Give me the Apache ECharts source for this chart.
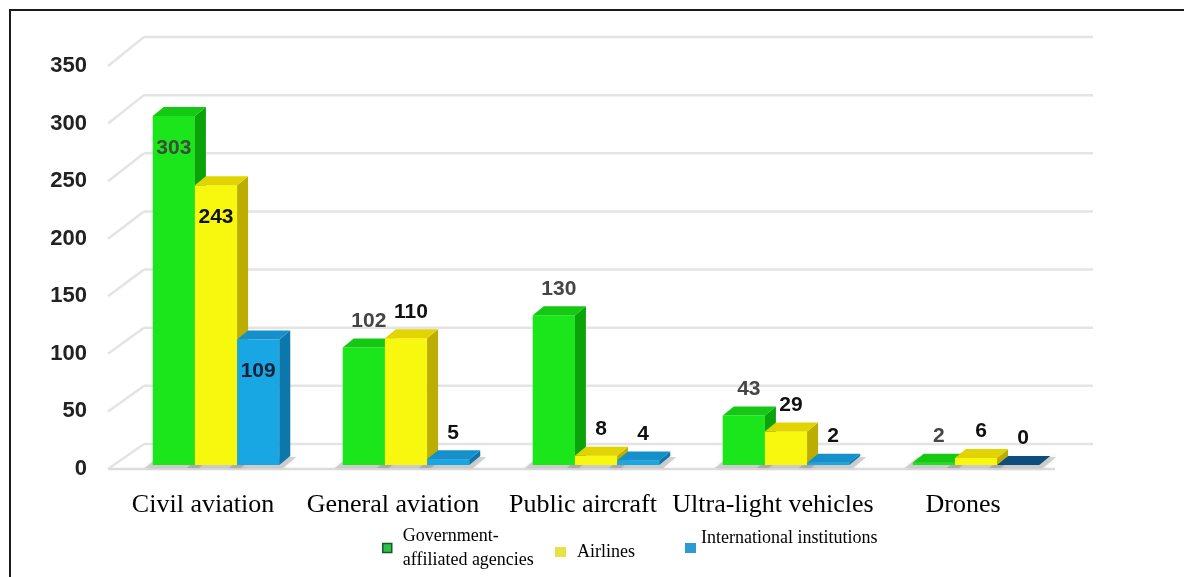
<!DOCTYPE html>
<html><head><meta charset="utf-8">
<script src="https://cdn.jsdelivr.net/npm/echarts@6/dist/echarts.min.js"></script>
<style>html,body{margin:0;padding:0;background:#fff}#c{width:1184px;height:577px}</style>
</head><body><div id="c"></div>
<script>
// ---- data ----
const categories = ['Civil aviation', 'General aviation', 'Public aircraft', 'Ultra-light vehicles', 'Drones'];
const seriesNames = ['Government-affiliated agencies', 'Airlines', 'International institutions'];
const government = [303, 102, 130, 43, 2];
const airlines = [243, 110, 8, 29, 6];
const international = [109, 5, 4, 2, 0];
const yTicks = [0, 50, 100, 150, 200, 250, 300, 350];

// ---- styles ----
const looks = [
  { front: '#1be51b', side: '#0aa30a', top: '#14c814', label: '#454545', inLabel: '#3a4f3a' },
  { front: '#f8f80e', side: '#bcae00', top: '#e2d400', label: '#111', inLabel: '#111' },
  { front: '#18a7e2', side: '#0c77ab', top: '#1590cb', label: '#111', inLabel: '#16213a' }
];
const DX = 11, DY = -9;
const LABEL_FONT = 'bold 21px "Liberation Sans", Arial, sans-serif';

function barGeom(api, cat, v, si) {
  const band = api.size([1, 0])[0];
  const w = band * 0.222;
  const base = api.coord([cat, 0]);
  const topP = api.coord([cat, v]);
  const x0 = base[0] + (si - 1.5) * w + 2;
  return { x0: x0, x1: x0 + w, yb: base[1] - 4, yt: topP[1] - 4 };
}

function makeBarRender(si) {
  const lk = looks[si];
  return function (params, api) {
    const cat = api.value(0), v = api.value(1);
    const g = barGeom(api, cat, v, si);
    const ch = [];
    if (g.yb - g.yt > 0.5) {
      ch.push({ type: 'rect', shape: { x: g.x0, y: g.yt, width: g.x1 - g.x0, height: g.yb - g.yt }, style: { fill: lk.front } });
      ch.push({ type: 'polygon', shape: { points: [[g.x1, g.yb], [g.x1 + DX, g.yb + DY], [g.x1 + DX, g.yt + DY], [g.x1, g.yt]] }, style: { fill: lk.side } });
    }
    ch.push({ type: 'polygon', shape: { points: [[g.x0, g.yt], [g.x0 + DX, g.yt + DY], [g.x1 + DX, g.yt + DY], [g.x1, g.yt]] },
      style: { fill: v === 0 ? '#0d4e7c' : lk.top } });
    const inside = cat === 0;
    ch.push({ type: 'text', z2: 50, style: {
      text: String(v),
      x: inside ? (g.x0 + g.x1) / 2 : (g.x0 + g.x1) / 2 + 5,
      y: inside ? g.yt + 32 : g.yt + DY - 7,
      align: 'center', verticalAlign: inside ? 'middle' : 'bottom',
      font: LABEL_FONT, fill: inside ? lk.inLabel : lk.label } });
    return { type: 'group', children: ch };
  };
}

function renderShadow(params, api) {
  const cat = api.value(0), si = api.value(1);
  const g = barGeom(api, cat, 0, si);
  return { type: 'polygon', shape: { points: [[g.x0 - 8, g.yb + 3], [g.x1 + 4, g.yb + 3], [g.x1 + DX + 6, g.yb + DY + 1], [g.x0 + DX - 6, g.yb + DY + 1]] },
    style: { fill: 'rgba(110,110,110,0.28)', shadowBlur: 4, shadowColor: 'rgba(0,0,0,0.25)' } };
}

function renderWall(params, api) {
  const v = api.value(1);
  const cs = params.coordSys;
  const y = api.coord([0, v])[1];
  const L = cs.x - 11;
  const dy = -25 - 4 * v / 350;
  const bx = L + 36, by = y + dy;
  const R = cs.x + cs.width + 24;
  const st = { stroke: '#e4e4e4', lineWidth: 2.5 };
  const ch = [
    { type: 'line', shape: { x1: L, y1: y, x2: bx, y2: by }, style: st },
    { type: 'line', shape: { x1: bx, y1: by, x2: R, y2: by }, style: st }
  ];
  if (v === 0) ch.push({ type: 'line', shape: { x1: L, y1: y, x2: cs.x + cs.width - 14, y2: y }, style: { stroke: '#dcdcdc', lineWidth: 2.5 } });
  return { type: 'group', children: ch };
}

const shadowData = [];
categories.forEach(function (c, i) { [0, 1, 2].forEach(function (s) { shadowData.push([i, s]); }); });

const chart = echarts.init(document.getElementById('c'), null, { renderer: 'canvas' });
const serifText = { fontFamily: '"Liberation Serif", "Times New Roman", serif', fontSize: 18, lineHeight: 24, color: '#000' };

chart.setOption({
  backgroundColor: '#fff',
  animation: false,
  grid: { left: 119, right: 115, top: 66, bottom: 108 },
  xAxis: {
    type: 'category', data: categories,
    axisLine: { show: false }, axisTick: { show: false }, splitLine: { show: false },
    axisLabel: { interval: 0, fontFamily: '"Liberation Serif", "Times New Roman", serif', fontSize: 26, color: '#000', margin: 23, padding: [0, 22, 0, 0] }
  },
  yAxis: {
    type: 'value', min: 0, max: 350, interval: 50,
    axisLine: { show: false }, axisTick: { show: false }, splitLine: { show: false },
    axisLabel: { fontFamily: '"Liberation Sans", Arial, sans-serif', fontWeight: 'bold', fontSize: 22, color: '#222', margin: 32, padding: [6, 0, 0, 0] }
  },
  legend: [
    { left: 377, top: 519, icon: 'rect', itemWidth: 9, itemHeight: 9, selectedMode: false,
      data: [{ name: seriesNames[0], itemStyle: { color: '#2fbf4f', borderColor: '#145a26', borderWidth: 1.5 } }],
      formatter: function () { return 'Government-\naffiliated agencies'; },
      textStyle: Object.assign({ padding: [0, 0, 0, 6] }, serifText) },
    { left: 550, top: 535, icon: 'rect', itemWidth: 11, itemHeight: 10, selectedMode: false,
      data: [{ name: seriesNames[1], itemStyle: { color: '#e6e245' } }],
      textStyle: Object.assign({ padding: [0, 0, 0, 6] }, serifText) },
    { left: 680, top: 523, icon: 'rect', itemWidth: 11, itemHeight: 10, selectedMode: false,
      data: [{ name: seriesNames[2], itemStyle: { color: '#2b9bd3' } }],
      formatter: function (n) { return n + '\n'; },
      textStyle: Object.assign({}, serifText, { lineHeight: 20 }) }
  ],
  graphic: [
    { type: 'line', shape: { x1: 9, y1: 10, x2: 1184, y2: 10 }, style: { stroke: '#1a1a1a', lineWidth: 2 } },
    { type: 'line', shape: { x1: 10, y1: 10, x2: 10, y2: 577 }, style: { stroke: '#1a1a1a', lineWidth: 2 } }
  ],
  series: [
    { type: 'custom', name: 'wall', silent: true, z: 1, renderItem: renderWall, data: yTicks.map(function (v) { return [0, v]; }) },
    { type: 'custom', name: 'shadow', silent: true, z: 2, renderItem: renderShadow, data: shadowData },
    { type: 'custom', name: seriesNames[0], z: 3, renderItem: makeBarRender(0), itemStyle: { color: looks[0].front },
      data: government.map(function (v, i) { return [i, v]; }) },
    { type: 'custom', name: seriesNames[1], z: 4, renderItem: makeBarRender(1), itemStyle: { color: looks[1].front },
      data: airlines.map(function (v, i) { return [i, v]; }) },
    { type: 'custom', name: seriesNames[2], z: 5, renderItem: makeBarRender(2), itemStyle: { color: looks[2].front },
      data: international.map(function (v, i) { return [i, v]; }) }
  ]
});
</script></body></html>
